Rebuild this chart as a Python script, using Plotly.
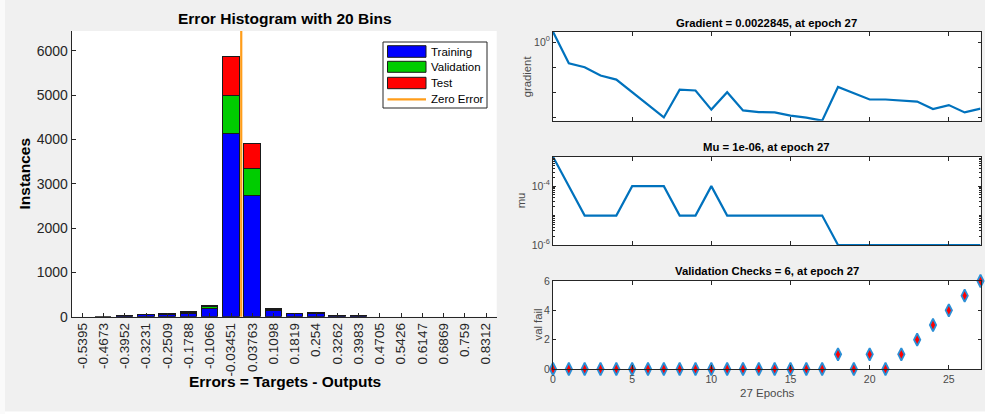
import plotly.graph_objects as go

# ---------------- data ----------------
bin_centers = [-0.5395, -0.4673, -0.3952, -0.3231, -0.2509, -0.1788, -0.1066, -0.03451,
               0.03763, 0.1098, 0.1819, 0.254, 0.3262, 0.3983, 0.4705, 0.5426,
               0.6147, 0.6869, 0.759, 0.8312]
bin_labels = ["-0.5395", "-0.4673", "-0.3952", "-0.3231", "-0.2509", "-0.1788", "-0.1066",
              "-0.03451", "0.03763", "0.1098", "0.1819", "0.254", "0.3262", "0.3983",
              "0.4705", "0.5426", "0.6147", "0.6869", "0.759", "0.8312"]
training = [0, 1, 20, 33, 44, 70, 174, 4134, 2733, 129, 53, 55, 16, 12, 0, 0, 0, 0, 0, 0]
validation = [0, 0, 3, 6, 8, 13, 38, 858, 595, 29, 9, 10, 3, 2, 0, 0, 0, 0, 0, 0]
test = [0, 0, 3, 6, 8, 12, 36, 866, 572, 22, 8, 10, 3, 2, 0, 0, 0, 0, 0, 0]
zero_error = 0.0

epochs = [0, 1, 2, 3, 4, 5, 6, 7, 8, 9, 10, 11, 12, 13, 14, 15, 16, 17, 18, 19,
          20, 21, 22, 23, 24, 25, 26, 27]
gradient = [2.57, 0.1445, 0.100, 0.0468, 0.0324, 0.0105, 0.00324, 0.00102, 0.0129, 0.0120,
            0.00209, 0.0102, 0.00195, 0.00166, 0.00162, 0.00120, 0.00100, 0.00076, 0.0166,
            0.00933, 0.00525, 0.00525, 0.00468, 0.00437, 0.00219, 0.00316, 0.00162, 0.0022845]
mu = [1e-3, 1e-4, 1e-5, 1e-5, 1e-5, 1e-4, 1e-4, 1e-4, 1e-5, 1e-5, 1e-4, 1e-5, 1e-5, 1e-5,
      1e-5, 1e-5, 1e-5, 1e-5, 1e-6, 1e-6, 1e-6, 1e-6, 1e-6, 1e-6, 1e-6, 1e-6, 1e-6, 1e-6]
val_fail = [0, 0, 0, 0, 0, 0, 0, 0, 0, 0, 0, 0, 0, 0, 0, 0, 0, 0, 1, 0, 1, 0, 1, 2, 3, 4, 5, 6]

# ---------------- styling ----------------
W, H = 985, 414
FONT = "Liberation Sans, Arial, Helvetica, sans-serif"
AX = "#262626"
TICK = "#4a4a4a"
LINE_BLUE = "#0072BD"
C_TRAIN, C_VAL, C_TEST, C_ZERO = "#0000FF", "#00CC00", "#FF0000", "#FF9D1A"


def px_x(p):
    return p / W


def px_y(p):
    return 1 - p / H


bin_w = bin_centers[1] - bin_centers[0]

fig = go.Figure()

# ---- error histogram (stacked bars) ----
for name, vals, col in [("Training", training, C_TRAIN),
                        ("Validation", validation, C_VAL),
                        ("Test", test, C_TEST)]:
    edge_w = [1 if v > 0 else 0 for v in vals]
    fig.add_trace(go.Bar(
        x=bin_centers, y=vals, name=name, width=bin_w * 0.78,
        marker=dict(color=col, line=dict(color="#1a1a1a", width=edge_w)),
        xaxis="x", yaxis="y", showlegend=False))

# ---- training state panels ----
fig.add_trace(go.Scatter(x=epochs, y=gradient, mode="lines",
                         line=dict(color=LINE_BLUE, width=2.2),
                         xaxis="x2", yaxis="y2", showlegend=False))
fig.add_trace(go.Scatter(x=epochs, y=mu, mode="lines",
                         line=dict(color=LINE_BLUE, width=2.2),
                         xaxis="x3", yaxis="y3", showlegend=False))
fig.add_trace(go.Scatter(x=epochs, y=val_fail, mode="markers",
                         marker=dict(symbol="diamond-tall", size=9, color="#FF0000",
                                     line=dict(color="#2b8fd6", width=1.8)),
                         cliponaxis=False,
                         xaxis="x4", yaxis="y4", showlegend=False))

# zero-error reference line
shapes = [dict(type="line", xref="x", yref="y domain", x0=zero_error, x1=zero_error,
               y0=0, y1=1, line=dict(color=C_ZERO, width=2.2), layer="above")]

# legend box for the histogram
lg_x0, lg_x1, lg_y0, lg_y1 = 383, 487, 42, 108
shapes.append(dict(type="rect", xref="paper", yref="paper",
                   x0=px_x(lg_x0), x1=px_x(lg_x1), y0=px_y(lg_y1), y1=px_y(lg_y0),
                   fillcolor="white", line=dict(color=AX, width=1)))
sw_x0, sw_x1 = 387.5, 426
rows = [("Training", C_TRAIN, 45.7, 57.3), ("Validation", C_VAL, 61.3, 72.3),
        ("Test", C_TEST, 77.3, 88.7)]
annotations = []
for label, col, t, b in rows:
    shapes.append(dict(type="rect", xref="paper", yref="paper",
                       x0=px_x(sw_x0), x1=px_x(sw_x1), y0=px_y(b), y1=px_y(t),
                       fillcolor=col, line=dict(color="#1a1a1a", width=1)))
    annotations.append(dict(text=label, x=px_x(429), y=px_y((t + b) / 2),
                            xref="paper", yref="paper", xanchor="left", yanchor="middle",
                            showarrow=False, font=dict(family=FONT, size=11.5, color="#000")))
shapes.append(dict(type="line", xref="paper", yref="paper",
                   x0=px_x(sw_x0), x1=px_x(sw_x1), y0=px_y(99.3), y1=px_y(99.3),
                   line=dict(color=C_ZERO, width=2.2)))
annotations.append(dict(text="Zero Error", x=px_x(429), y=px_y(99.3),
                        xref="paper", yref="paper", xanchor="left", yanchor="middle",
                        showarrow=False, font=dict(family=FONT, size=11.5, color="#000")))

# faint white strips along the figure edges
shapes.append(dict(type="rect", xref="paper", yref="paper", x0=0, x1=1, y0=0, y1=px_y(411.5),
                   fillcolor="white", line=dict(width=0), layer="below"))
shapes.append(dict(type="rect", xref="paper", yref="paper", x0=0, x1=px_x(5), y0=0, y1=1,
                   fillcolor="#fafafa", line=dict(width=0), layer="below"))


def text(s, x, y, size, bold=False, angle=0, color="#000"):
    annotations.append(dict(text=f"<b>{s}</b>" if bold else s, x=px_x(x), y=px_y(y),
                            xref="paper", yref="paper", xanchor="center", yanchor="middle",
                            textangle=angle, showarrow=False,
                            font=dict(family=FONT, size=size, color=color)))


text("Error Histogram with 20 Bins", 284.5, 19, 15.5, bold=True)
text("Errors = Targets - Outputs", 284.7, 381, 15.5, bold=True)
text("Instances", 23.5, 174, 15.5, bold=True, angle=-90)
text("Gradient = 0.0022845, at epoch 27", 766.7, 23.3, 11.3, bold=True)
text("Mu = 1e-06, at epoch 27", 766.5, 147.3, 11.3, bold=True)
text("Validation Checks = 6, at epoch 27", 766.5, 270.7, 11.3, bold=True)
text("gradient", 527.8, 76.5, 11.3, angle=-90, color=TICK)
text("mu", 521.8, 200.5, 11.3, angle=-90, color=TICK)
text("val fail", 537.5, 325, 11.3, angle=-90, color=TICK)
text("27 Epochs", 767, 393, 11.5, color=TICK)

common = dict(showgrid=False, zeroline=False, showline=True, linecolor=AX, linewidth=1,
              ticks="inside", tickcolor=AX, automargin=False)

rx = [px_x(553), px_x(980.5)]
right_x = dict(common, domain=rx, range=[0, 27], tickvals=[0, 5, 10, 15, 20, 25],
               mirror="allticks", ticklen=4,
               tickfont=dict(family=FONT, size=10.5, color=TICK))

# minor log ticks for the mu axis
mu_minor = [m * 10.0 ** e for e in (-6, -5, -4) for m in range(2, 10)]

fig.update_layout(
    width=W, height=H,
    margin=dict(l=0, r=0, t=0, b=0, autoexpand=False),
    paper_bgcolor="#f0f0f0", plot_bgcolor="white",
    barmode="stack", bargap=0,
    showlegend=False,
    xaxis=dict(common, domain=[px_x(71.7), px_x(496.7)], anchor="y",
               range=[bin_centers[0] - bin_w / 2, bin_centers[-1] + bin_w / 2],
               tickvals=bin_centers, ticktext=bin_labels, tickangle=-90, ticklen=4,
               tickfont=dict(family=FONT, size=13.5, color=AX)),
    yaxis=dict(common, domain=[px_y(316.7), px_y(31)], anchor="x",
               range=[0, 6450], tickvals=[0, 1000, 2000, 3000, 4000, 5000, 6000],
               ticklen=4, tickfont=dict(family=FONT, size=14, color=AX)),
    xaxis2=dict(right_x, anchor="y2", showticklabels=False),
    yaxis2=dict(common, domain=[px_y(120.7), px_y(31.7)], anchor="x2", type="log",
                range=[-3.12, 0.41], tickvals=[1], ticktext=["10<sup>0</sup>"],
                mirror="allticks", ticklen=3,
                minor=dict(tickvals=[1e-3, 1e-2, 1e-1], ticks="inside", ticklen=3,
                           tickcolor=AX, showgrid=False),
                tickfont=dict(family=FONT, size=10.5, color=TICK)),
    xaxis3=dict(right_x, anchor="y3", showticklabels=False),
    yaxis3=dict(common, domain=[px_y(245), px_y(156.7)], anchor="x3", type="log",
                range=[-6, -3], tickvals=[1e-6, 1e-4],
                ticktext=["10<sup>-6</sup>", "10<sup>-4</sup>"], mirror="allticks",
                ticklen=3,
                minor=dict(tickvals=mu_minor + [1e-5, 1e-3], ticks="inside", ticklen=2,
                           tickcolor=AX, showgrid=False),
                tickfont=dict(family=FONT, size=10.5, color=TICK)),
    xaxis4=dict(right_x, anchor="y4"),
    yaxis4=dict(common, domain=[px_y(369), px_y(281)], anchor="x4",
                range=[0, 6], tickvals=[0, 2, 4, 6], mirror="allticks", ticklen=3,
                tickfont=dict(family=FONT, size=10.5, color=TICK)),
    shapes=shapes,
    annotations=annotations,
)

fig.write_html("out.html")
